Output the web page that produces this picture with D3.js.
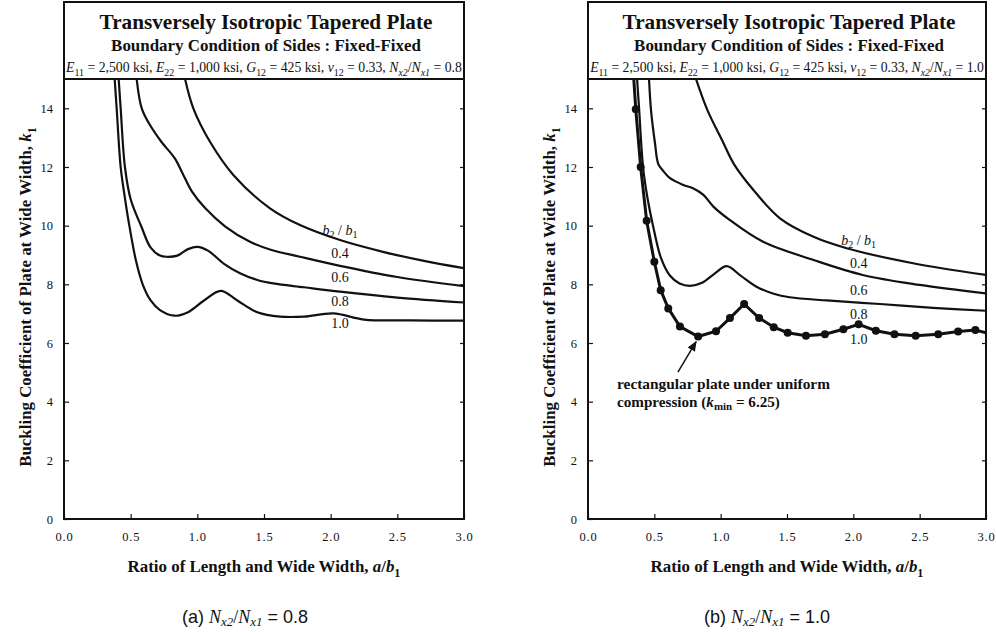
<!DOCTYPE html>
<html>
<head>
<meta charset="utf-8">
<script src="https://cdn.jsdelivr.net/npm/d3@7"></script>
<style>
  body { margin: 0; background: #fff; }
  svg { display: block; }
  .axis text { font-family: 'Liberation Serif', 'Times New Roman', serif; font-size: 12.5px; fill: #111; }
</style>
</head>
<body>
<svg id="canvas" width="996" height="632"></svg>
<script>
(function () {

    // ---- data ----
    const xTicks = [0, 0.5, 1, 1.5, 2, 2.5, 3];
    const yTicks = [0, 2, 4, 6, 8, 10, 12, 14];
    const ratioNames = ["0.4", "0.6", "0.8", "1.0"];

    // (a) Nx2/Nx1 = 0.8
    const a04x = [0.908, 0.97, 1.095, 1.27, 1.545, 1.77, 2.07, 2.4, 2.7, 3.0];
    const a04k = [15, 14.0, 12.86, 11.73, 10.59, 10.02, 9.51, 9.1, 8.8, 8.55];
    const a06x = [0.545, 0.583, 0.645, 0.73, 0.83, 0.895, 0.96, 1.06, 1.21, 1.395, 1.55, 1.77, 2.07, 2.5, 3.0];
    const a06k = [15, 14.0, 13.43, 12.86, 12.3, 11.73, 11.16, 10.59, 9.97, 9.45, 9.18, 8.94, 8.63, 8.25, 7.94];
    const a08x = [0.41, 0.425, 0.457, 0.5, 0.58, 0.65, 0.72, 0.77, 0.85, 0.93, 1.0, 1.08, 1.2, 1.32, 1.45, 1.57, 1.8, 2.07, 2.5, 3.0];
    const a08k = [15, 14, 12, 10.9, 9.97, 9.25, 8.98, 8.94, 8.98, 9.2, 9.28, 9.15, 8.7, 8.38, 8.15, 8.03, 7.9, 7.75, 7.55, 7.38];
    const a10x = [0.38, 0.395, 0.425, 0.455, 0.49, 0.54, 0.59, 0.65, 0.72, 0.83, 0.93, 1.05, 1.175, 1.3, 1.45, 1.62, 1.8, 2.02, 2.25, 2.6, 3.0];
    const a10k = [15, 14, 12, 11, 10, 8.8, 8.0, 7.45, 7.12, 6.93, 7.05, 7.45, 7.78, 7.45, 7.05, 6.9, 6.9, 7.01, 6.8, 6.77, 6.76];

    // (b) Nx2/Nx1 = 1.0
    const b04x = [0.814, 0.9, 1.01, 1.1, 1.25, 1.447, 1.7, 1.95, 2.45, 3.0];
    const b04k = [15, 13.94, 12.92, 12.1, 11.2, 10.25, 9.62, 9.23, 8.72, 8.32];
    const b06x = [0.46, 0.475, 0.505, 0.53, 0.57, 0.618, 0.718, 0.795, 0.87, 0.945, 1.07, 1.32, 1.7, 2.07, 2.5, 3.0];
    const b06k = [15, 13.94, 12.81, 12.1, 11.85, 11.62, 11.39, 11.27, 11.05, 10.65, 10.19, 9.45, 8.83, 8.32, 7.98, 7.69];
    const b08x = [0.37, 0.385, 0.415, 0.45, 0.49, 0.55, 0.617, 0.69, 0.77, 0.86, 0.95, 1.045, 1.15, 1.27, 1.4, 1.52, 1.8, 2.2, 2.6, 3.0];
    const b08k = [15, 14, 12, 10.9, 10.0, 8.9, 8.3, 8.03, 7.95, 8.05, 8.35, 8.62, 8.3, 7.92, 7.68, 7.56, 7.45, 7.33, 7.2, 7.1];
    // rectangular plate, computed points (markers)
    const b10x = [0.36, 0.397, 0.442, 0.5, 0.548, 0.605, 0.693, 0.83, 0.965, 1.07, 1.177, 1.29, 1.4, 1.505, 1.643, 1.786, 1.925, 2.04, 2.17, 2.31, 2.47, 2.64, 2.79, 2.92];
    const b10k = [13.97, 12.0, 10.17, 8.77, 7.8, 7.18, 6.56, 6.22, 6.4, 6.85, 7.33, 6.85, 6.54, 6.35, 6.25, 6.3, 6.47, 6.64, 6.42, 6.3, 6.25, 6.3, 6.39, 6.44];
    const b10ends = [[0.345, 15], [3.0, 6.35]];

    const zip = (xs, ks) => xs.map((x, i) => [x, ks[i]]);

    // ---- layout ----
    const serif = "'Liberation Serif', 'Times New Roman', serif";
    const sans = "'Liberation Sans', Arial, sans-serif";
    const boxTop = 2, plotTop = 79, plotBottom = 519;

    const panels = [
        {
            x0: 64, x1: 464, tag: "(a)", ratio: "0.8", capX: 245,
            curves: [zip(a04x, a04k), zip(a06x, a06k), zip(a08x, a08k), zip(a10x, a10k)],
            labelX: 2.07, labelK: [9.85, 9.07, 8.25, 7.43, 6.68]
        },
        {
            x0: 588, x1: 986, tag: "(b)", ratio: "1.0", capX: 767,
            curves: [zip(b04x, b04k), zip(b06x, b06k), zip(b08x, b08k)],
            labelX: 2.04, labelK: [9.51, 8.73, 7.81, 6.99, 6.14]
        }
    ];

    const svg = d3.select("#canvas");

    svg.append("defs").append("marker")
        .attr("id", "arrow")
        .attr("viewBox", "0 0 10 10")
        .attr("refX", 9).attr("refY", 5)
        .attr("markerWidth", 7).attr("markerHeight", 7)
        .attr("orient", "auto")
        .append("path").attr("d", "M0,1 L10,5 L0,9 z").attr("fill", "#111");

    // text made of pieces: [string, flags]  i = italic, s = subscript, S = sans
    function rich(g, x, y, parts, size, o) {
        o = o || {};
        const t = g.append("text")
            .attr("x", x).attr("y", y)
            .attr("font-family", serif)
            .attr("font-size", size)
            .attr("text-anchor", o.anchor || "middle")
            .attr("fill", "#111");
        if (o.bold) t.attr("font-weight", "bold");
        if (o.rotate) t.attr("transform", `rotate(-90,${x},${y})`);
        const sub = o.sub || 0.3;
        let off = 0;
        parts.forEach(p => {
            const f = p[1] || "";
            const ts = t.append("tspan").text(p[0]);
            const want = f.includes("s") ? size * sub : 0;
            if (want !== off) { ts.attr("dy", want - off); off = want; }
            if (f.includes("s")) ts.attr("font-size", size * 0.72);
            if (f.includes("i")) ts.attr("font-style", "italic");
            if (f.includes("S")) ts.attr("font-family", sans);
        });
        // squeeze to a target width if asked
        if (o.width) {
            const w = t.node().getComputedTextLength();
            if (w > 0) {
                const s2 = size * o.width / w;
                t.remove();
                return rich(g, x, y, parts, s2, Object.assign({}, o, { width: null }));
            }
        }
        return t;
    }

    panels.forEach(p => {
        const g = svg.append("g");

        const x = d3.scaleLinear().domain([0, 3]).range([p.x0, p.x1]);
        const y = d3.scaleLinear().domain([0, 15]).range([plotBottom, plotTop]);
        const cx = (p.x0 + p.x1) / 2;

        const clipId = "clip" + p.tag.replace(/\W/g, "");
        svg.select("defs").append("clipPath").attr("id", clipId)
            .append("rect")
            .attr("x", p.x0).attr("y", plotTop)
            .attr("width", p.x1 - p.x0).attr("height", plotBottom - plotTop);

        // axes: ticks inside the frame
        g.append("g")
            .attr("class", "axis")
            .attr("transform", `translate(0,${plotBottom})`)
            .call(d3.axisBottom(x).tickValues(xTicks).tickSize(-5).tickPadding(13)
                .tickFormat(d3.format(".1f")))
            .call(a => a.select(".domain").remove())
            .call(a => a.selectAll("text").style("letter-spacing", "0.8px"));
        g.append("g")
            .attr("class", "axis")
            .attr("transform", `translate(${p.x0},0)`)
            .call(d3.axisLeft(y).tickValues(yTicks).tickSize(-5).tickPadding(11))
            .call(a => a.select(".domain").remove());
        g.append("g")
            .attr("transform", `translate(${p.x1},0)`)
            .call(d3.axisRight(y).tickValues(yTicks.slice(1)).tickSize(-4).tickFormat(""))
            .call(a => a.select(".domain").remove());
        g.selectAll(".tick line").attr("stroke", "#111").attr("stroke-width", 1.2);

        // frame and title box
        g.append("path")
            .attr("d", `M${p.x0},${boxTop}H${p.x1}V${plotBottom}H${p.x0}Z M${p.x0},${plotTop}H${p.x1}`)
            .attr("fill", "none").attr("stroke", "#111").attr("stroke-width", 2);

        // titles
        rich(g, cx + 2, 29, [["Transversely Isotropic Tapered Plate"]], 20, { bold: true, width: 333 });
        rich(g, cx + 2, 51, [["Boundary Condition of Sides : Fixed-Fixed"]], 16, { bold: true, width: 310 });
        rich(g, cx, 72, [
            ["E", "i"], ["11", "s"], [" = 2,500 ksi, "],
            ["E", "i"], ["22", "s"], [" = 1,000 ksi, "],
            ["G", "i"], ["12", "s"], [" = 425 ksi, "],
            ["ν", "i"], ["12", "s"], [" = 0.33, "],
            ["N", "i"], ["x2", "is"], ["/"], ["N", "i"], ["x1", "is"], [" = " + p.ratio]
        ], 12, { width: p.x1 - p.x0 - 4 });

        // axis titles and caption
        rich(g, p.x0 - 33, 297, [["Buckling Coefficient of Plate at Wide Width, "], ["k", "i"], ["1", "s"]],
            14, { bold: true, rotate: true, width: 340 });
        rich(g, cx, 572, [["Ratio of Length and Wide Width, "], ["a", "i"], ["/"], ["b", "i"], ["1", "s"]],
            14, { bold: true, width: 273 });
        rich(g, p.capX, 623, [[p.tag + "  ", "S"], ["N", "i"], ["x2", "is"], ["/"], ["N", "i"], ["x1", "is"], [" = " + p.ratio, "S"]],
            13, { width: 126, sub: 0.16 });

        // curves
        const line = d3.line().x(d => x(d[0])).y(d => y(d[1])).curve(d3.curveCatmullRom.alpha(0.5));
        const plot = g.append("g").attr("clip-path", `url(#${clipId})`);
        plot.selectAll("path.curve")
            .data(p.curves)
            .join("path")
            .attr("class", "curve")
            .attr("d", line)
            .attr("fill", "none").attr("stroke", "#111").attr("stroke-width", 2.2);

        // curve labels
        const lab = g.append("g");
        rich(lab, x(p.labelX), y(p.labelK[0]), [["b", "i"], ["2", "s"], [" / "], ["b", "i"], ["1", "s"]], 14, {})
            .attr("dominant-baseline", "central");
        ratioNames.forEach((r, i) => {
            rich(lab, x(p.labelX), y(p.labelK[i + 1]), [[r]], 14, {}).attr("dominant-baseline", "central");
        });

        p.x = x; p.y = y; p.plot = plot; p.g = g;
    });

    // rectangular plate (b), straight segments through the computed points
    const pb = panels[1];
    const rect = [b10ends[0]].concat(zip(b10x, b10k), [b10ends[1]]);
    pb.plot.append("path")
        .attr("d", d3.line().x(d => pb.x(d[0])).y(d => pb.y(d[1]))(rect))
        .attr("fill", "none").attr("stroke", "#111").attr("stroke-width", 3);
    pb.plot.selectAll("circle")
        .data(zip(b10x, b10k))
        .join("circle")
        .attr("cx", d => pb.x(d[0])).attr("cy", d => pb.y(d[1]))
        .attr("r", 4).attr("fill", "#111");

    // annotation
    pb.g.append("line")
        .attr("x1", pb.x(0.678)).attr("y1", pb.y(5.01))
        .attr("x2", pb.x(0.815)).attr("y2", pb.y(6.05))
        .attr("stroke", "#111").attr("stroke-width", 1.5)
        .attr("marker-end", "url(#arrow)");
    rich(pb.g, pb.x(0.219), pb.y(4.64), [["rectangular plate under uniform"]], 14,
        { anchor: "start", bold: true, width: 213 }).attr("dominant-baseline", "central");
    rich(pb.g, pb.x(0.219), pb.y(4.02), [["compression ("], ["k", "i"], ["min", "s"], [" = 6.25)"]], 14,
        { anchor: "start", bold: true, width: 163 }).attr("dominant-baseline", "central");

})();
</script>
</body>
</html>
